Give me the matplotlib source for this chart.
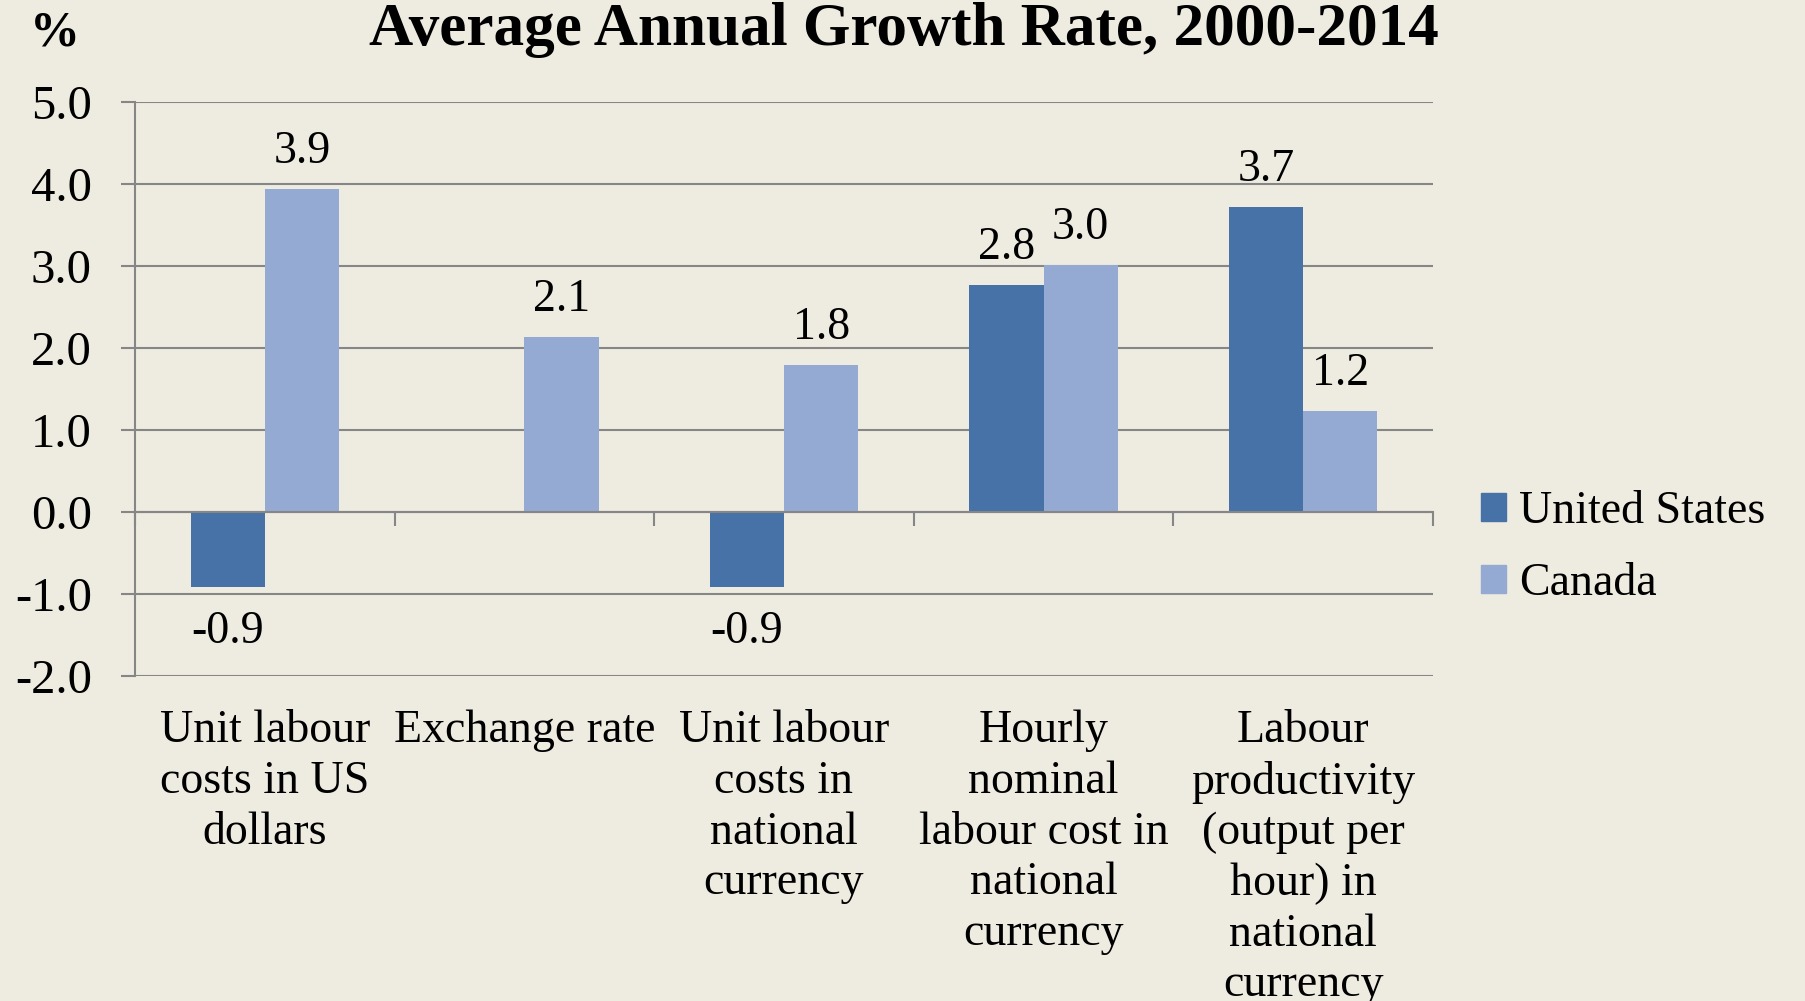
import matplotlib
matplotlib.use("Agg")
import matplotlib.pyplot as plt
import numpy as np
from matplotlib.patches import Patch
import matplotlib.transforms as mtransforms

categories = [
    "Unit labour\ncosts in US\ndollars",
    "Exchange rate",
    "Unit labour\ncosts in\nnational\ncurrency",
    "Hourly\nnominal\nlabour cost in\nnational\ncurrency",
    "Labour\nproductivity\n(output per\nhour) in\nnational\ncurrency",
]
us_values = [-0.92, np.nan, -0.92, 2.77, 3.72]
canada_values = [3.94, 2.13, 1.79, 3.01, 1.23]
series_names = ["United States", "Canada"]
y_ticks = [-2.0, -1.0, 0.0, 1.0, 2.0, 3.0, 4.0, 5.0]

BG = "#EEEBE0"
US_COLOR = "#4672A8"
CA_COLOR = "#95AAD2"
GRID = "#868686"
FONT = "Liberation Serif"

plt.rcParams["font.family"] = [FONT, "DejaVu Serif"]

W, H = 1805, 1001
fig = plt.figure(figsize=(W / 100, H / 100), dpi=100, facecolor=BG)
left, right, top, bottom = 135, 1433, 102, 676
ax = fig.add_axes([left / W, 1 - bottom / H, (right - left) / W, (bottom - top) / H])
ax.set_facecolor(BG)

x = np.arange(len(categories))
bw = 1 / 3.5
ax.bar(x - bw / 2, us_values, bw, color=US_COLOR, label=series_names[0], zorder=3)
ax.bar(x + bw / 2, canada_values, bw, color=CA_COLOR, label=series_names[1], zorder=3)

ax.set_xlim(-0.5, len(categories) - 0.5)
ax.set_ylim(-2, 5)
ax.set_yticks(y_ticks)
ax.set_yticklabels([f"{v:.1f}" for v in y_ticks], fontsize=35)
ax.tick_params(axis="y", length=10, width=1.5, color=GRID, pad=21)
ax.yaxis.grid(True, color=GRID, linewidth=1.5, zorder=0)

for s in ["top", "right"]:
    ax.spines[s].set_visible(False)
ax.spines["left"].set_color(GRID)
ax.spines["left"].set_linewidth(1.5)
ax.spines["bottom"].set_position(("data", 0))
ax.spines["bottom"].set_color(GRID)
ax.spines["bottom"].set_linewidth(1.5)
ax.spines["bottom"].set_zorder(4)
ax.set_xticks(np.arange(len(categories) + 1) - 0.5)
ax.set_xticklabels([])
ax.tick_params(axis="x", length=10, width=1.5, color=GRID, direction="out")

# value labels
def label(xpos, v):
    if np.isnan(v):
        return
    off = 27 if v >= 0 else -32
    ax.annotate(f"{v:.1f}", (xpos, v), xytext=(0, off), textcoords="offset points",
                ha="center", va="center", fontsize=33, zorder=5)

for i in range(len(categories)):
    label(x[i] - bw / 2, us_values[i])
    label(x[i] + bw / 2, canada_values[i])

# category labels
trans = mtransforms.blended_transform_factory(ax.transData, fig.transFigure)
for i, c in enumerate(categories):
    fig.text(x[i], 1 - 710 / H, c, transform=trans, ha="center", va="top",
             fontsize=33, linespacing=1.25, multialignment="center")

fig.text(904 / W, 1 - 30 / H, "Average Annual Growth Rate, 2000-2014", ha="center",
         va="center", fontsize=44, fontweight="bold")
fig.text(55 / W, 1 - 33 / H, "%", ha="center", va="center", fontsize=36, fontweight="bold")

handles = [Patch(color=US_COLOR), Patch(color=CA_COLOR)]
fig.legend(handles, series_names, loc="center left", bbox_to_anchor=(1481 / W, 1 - 548 / H),
           frameon=False, fontsize=33, handlelength=0.55, handleheight=0.55,
           handletextpad=0.28, labelspacing=0.65, borderpad=0.0, borderaxespad=0.0)

fig.savefig("out.png", dpi=100, facecolor=BG)
